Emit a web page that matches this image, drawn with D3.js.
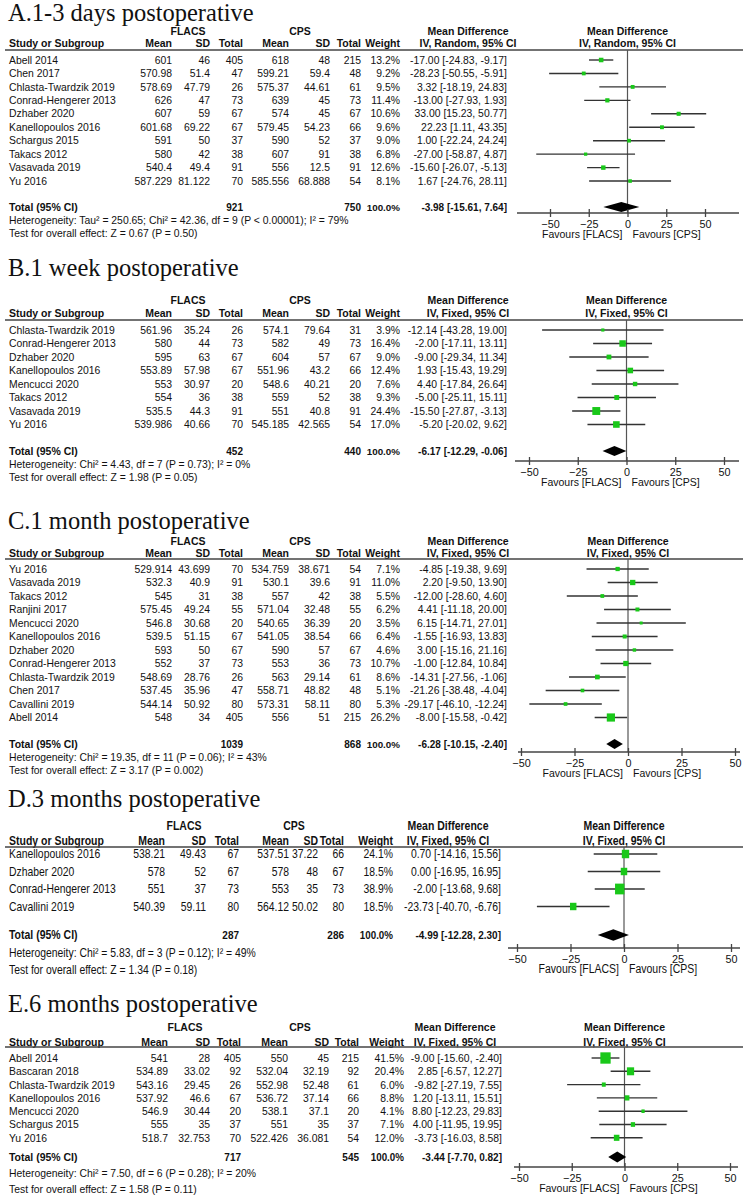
<!DOCTYPE html>
<html><head><meta charset="utf-8">
<script src="https://cdn.jsdelivr.net/npm/d3@7"></script>
<style>
body{margin:0;background:#fff}
svg{display:block}
text{font-family:"Liberation Sans",Arial,sans-serif;fill:#111}
</style>
</head><body>
<svg id="chart" width="750" height="1199"></svg>
<script>
// ---------------- DATA ----------------
const tickValues = [-50, -25, 0, 25, 50];
const groupLabels = ["FLACS", "CPS"];

// A. 1-3 days postoperative (Random)
const studiesA = ["Abell 2014","Chen 2017","Chlasta-Twardzik 2019","Conrad-Hengerer 2013","Dzhaber 2020","Kanellopoulos 2016","Schargus 2015","Takacs 2012","Vasavada 2019","Yu 2016"];
const flacsMeanA = [601,570.98,578.69,626,607,601.68,591,580,540.4,587.229];
const flacsSdA = [46,51.4,47.79,47,59,69.22,50,42,49.4,81.122];
const flacsNA = [405,47,26,73,67,67,37,38,91,70];
const cpsMeanA = [618,599.21,575.37,639,574,579.45,590,607,556,585.556];
const cpsSdA = [48,59.4,44.61,45,45,54.23,52,91,12.5,68.888];
const cpsNA = [215,48,61,73,67,66,37,38,91,54];
const weightA = [13.2,9.2,9.5,11.4,10.6,9.6,9.0,6.8,12.6,8.1];
const mdA = [-17.00,-28.23,3.32,-13.00,33.00,22.23,1.00,-27.00,-15.60,1.67];
const loA = [-24.83,-50.55,-18.19,-27.93,15.23,1.11,-22.24,-58.87,-26.07,-24.76];
const hiA = [-9.17,-5.91,24.83,1.93,50.77,43.35,24.24,4.87,-5.13,28.11];
const totalA = {fn:921, cn:750, md:-3.98, lo:-15.61, hi:7.64};
const hetA = "Heterogeneity: Tau² = 250.65; Chi² = 42.36, df = 9 (P < 0.00001); I² = 79%";
const testA = "Test for overall effect: Z = 0.67 (P = 0.50)";

// B. 1 week postoperative (Fixed)
const studiesB = ["Chlasta-Twardzik 2019","Conrad-Hengerer 2013","Dzhaber 2020","Kanellopoulos 2016","Mencucci 2020","Takacs 2012","Vasavada 2019","Yu 2016"];
const flacsMeanB = [561.96,580,595,553.89,553,554,535.5,539.986];
const flacsSdB = [35.24,44,63,57.98,30.97,36,44.3,40.66];
const flacsNB = [26,73,67,67,20,38,91,70];
const cpsMeanB = [574.1,582,604,551.96,548.6,559,551,545.185];
const cpsSdB = [79.64,49,57,43.2,40.21,52,40.8,42.565];
const cpsNB = [31,73,67,66,20,38,91,54];
const weightB = [3.9,16.4,9.0,12.4,7.6,9.3,24.4,17.0];
const mdB = [-12.14,-2.00,-9.00,1.93,4.40,-5.00,-15.50,-5.20];
const loB = [-43.28,-17.11,-29.34,-15.43,-17.84,-25.11,-27.87,-20.02];
const hiB = [19.00,13.11,11.34,19.29,26.64,15.11,-3.13,9.62];
const totalB = {fn:452, cn:440, md:-6.17, lo:-12.29, hi:-0.06};
const hetB = "Heterogeneity: Chi² = 4.43, df = 7 (P = 0.73); I² = 0%";
const testB = "Test for overall effect: Z = 1.98 (P = 0.05)";

// C. 1 month postoperative (Fixed)
const studiesC = ["Yu 2016","Vasavada 2019","Takacs 2012","Ranjini 2017","Mencucci 2020","Kanellopoulos 2016","Dzhaber 2020","Conrad-Hengerer 2013","Chlasta-Twardzik 2019","Chen 2017","Cavallini 2019","Abell 2014"];
const flacsMeanC = [529.914,532.3,545,575.45,546.8,539.5,593,552,548.69,537.45,544.14,548];
const flacsSdC = [43.699,40.9,31,49.24,30.68,51.15,50,37,28.76,35.96,50.92,34];
const flacsNC = [70,91,38,55,20,67,67,73,26,47,80,405];
const cpsMeanC = [534.759,530.1,557,571.04,540.65,541.05,590,553,563,558.71,573.31,556];
const cpsSdC = [38.671,39.6,42,32.48,36.39,38.54,57,36,29.14,48.82,58.11,51];
const cpsNC = [54,91,38,55,20,66,67,73,61,48,80,215];
const weightC = [7.1,11.0,5.5,6.2,3.5,6.4,4.6,10.7,8.6,5.1,5.3,26.2];
const mdC = [-4.85,2.20,-12.00,4.41,6.15,-1.55,3.00,-1.00,-14.31,-21.26,-29.17,-8.00];
const loC = [-19.38,-9.50,-28.60,-11.18,-14.71,-16.93,-15.16,-12.84,-27.56,-38.48,-46.10,-15.58];
const hiC = [9.69,13.90,4.60,20.00,27.01,13.83,21.16,10.84,-1.06,-4.04,-12.24,-0.42];
const totalC = {fn:1039, cn:868, md:-6.28, lo:-10.15, hi:-2.40};
const hetC = "Heterogeneity: Chi² = 19.35, df = 11 (P = 0.06); I² = 43%";
const testC = "Test for overall effect: Z = 3.17 (P = 0.002)";

// D. 3 months postoperative (Fixed)
const studiesD = ["Kanellopoulos 2016","Dzhaber 2020","Conrad-Hengerer 2013","Cavallini 2019"];
const flacsMeanD = [538.21,578,551,540.39];
const flacsSdD = [49.43,52,37,59.11];
const flacsND = [67,67,73,80];
const cpsMeanD = [537.51,578,553,564.12];
const cpsSdD = [37.22,48,35,50.02];
const cpsND = [66,67,73,80];
const weightD = [24.1,18.5,38.9,18.5];
const mdD = [0.70,0.00,-2.00,-23.73];
const loD = [-14.16,-16.95,-13.68,-40.70];
const hiD = [15.56,16.95,9.68,-6.76];
const totalD = {fn:287, cn:286, md:-4.99, lo:-12.28, hi:2.30};
const hetD = "Heterogeneity: Chi² = 5.83, df = 3 (P = 0.12); I² = 49%";
const testD = "Test for overall effect: Z = 1.34 (P = 0.18)";

// E. 6 months postoperative (Fixed)
const studiesE = ["Abell 2014","Bascaran 2018","Chlasta-Twardzik 2019","Kanellopoulos 2016","Mencucci 2020","Schargus 2015","Yu 2016"];
const flacsMeanE = [541,534.89,543.16,537.92,546.9,555,518.7];
const flacsSdE = [28,33.02,29.45,46.6,30.44,35,32.753];
const flacsNE = [405,92,26,67,20,37,70];
const cpsMeanE = [550,532.04,552.98,536.72,538.1,551,522.426];
const cpsSdE = [45,32.19,52.48,37.14,37.1,35,36.081];
const cpsNE = [215,92,61,66,20,37,54];
const weightE = [41.5,20.4,6.0,8.8,4.1,7.1,12.0];
const mdE = [-9.00,2.85,-9.82,1.20,8.80,4.00,-3.73];
const loE = [-15.60,-6.57,-27.19,-13.11,-12.23,-11.95,-16.03];
const hiE = [-2.40,12.27,7.55,15.51,29.83,19.95,8.58];
const totalE = {fn:717, cn:545, md:-3.44, lo:-7.70, hi:0.82};
const hetE = "Heterogeneity: Chi² = 7.50, df = 6 (P = 0.28); I² = 20%";
const testE = "Test for overall effect: Z = 1.58 (P = 0.11)";

// ---------------- PANELS ----------------
const panels = [
  {title:"A.1-3 days postoperative", model:"Random", studies:studiesA, fm:flacsMeanA, fsd:flacsSdA, fn:flacsNA, cm:cpsMeanA, csd:cpsSdA, cn:cpsNA, w:weightA, md:mdA, lo:loA, hi:hiA, total:totalA, het:hetA, test:testA},
  {title:"B.1 week postoperative", model:"Fixed", studies:studiesB, fm:flacsMeanB, fsd:flacsSdB, fn:flacsNB, cm:cpsMeanB, csd:cpsSdB, cn:cpsNB, w:weightB, md:mdB, lo:loB, hi:hiB, total:totalB, het:hetB, test:testB},
  {title:"C.1 month postoperative", model:"Fixed", studies:studiesC, fm:flacsMeanC, fsd:flacsSdC, fn:flacsNC, cm:cpsMeanC, csd:cpsSdC, cn:cpsNC, w:weightC, md:mdC, lo:loC, hi:hiC, total:totalC, het:hetC, test:testC},
  {title:"D.3 months postoperative", model:"Fixed", studies:studiesD, fm:flacsMeanD, fsd:flacsSdD, fn:flacsND, cm:cpsMeanD, csd:cpsSdD, cn:cpsND, w:weightD, md:mdD, lo:loD, hi:hiD, total:totalD, het:hetD, test:testD},
  {title:"E.6 months postoperative", model:"Fixed", studies:studiesE, fm:flacsMeanE, fsd:flacsSdE, fn:flacsNE, cm:cpsMeanE, csd:cpsSdE, cn:cpsNE, w:weightE, md:mdE, lo:loE, hi:hiE, total:totalE, het:hetE, test:testE}
];

// ---------------- LAYOUT ----------------
const colsABC = {fm:172, fsd:210, fn:243, cm:289, csd:330, cn:361, w:400, ci:507, flacsC:188, cpsC:300, mdC:468};
const colsD = {fm:165, fsd:206, fn:239, cm:289, csd:318, cn:344, w:393, ci:501, flacsC:184, cpsC:294, mdC:448};
const colsE = {fm:168, fsd:210, fn:241, cm:288, csd:329, cn:359, w:404, ci:502, flacsC:185, cpsC:300, mdC:455};
const layouts = [
  {title:13, grp:31, hdr:43, line:50, row0:60, dy:13.45, total:207, het:220, test:233, axisY:213, xm:550, xp:705, ax0:517, ax1:739, cols:colsABC, sq:1.25, sy:1},
  {title:268, grp:300, hdr:313, line:320, row0:330, dy:13.5, total:451, het:464, test:477, axisY:461, xm:529, xp:724, ax0:515, ax1:739, cols:colsABC, sq:1.6, sy:1},
  {title:521, grp:541, hdr:553, line:559, row0:569, dy:13.5, total:744, het:757, test:770, axisY:752, xm:521, xp:735, ax0:518, ax1:740, cols:colsABC, sq:1.6, sy:1},
  {title:799, grp:826, hdr:841, line:847, row0:854, dy:17.5, total:935, het:953, test:970, axisY:948, xm:517, xp:731, ax0:508, ax1:740, cols:colsD, sq:1.5, sy:1.15},
  {title:1004, grp:1027, hdr:1042, line:1047, row0:1058, dy:13.3, total:1157, het:1173, test:1189, axisY:1167, xm:519, xp:730, ax0:514, ax1:738, cols:colsE, sq:1.6, sy:1.1}
];

const svg = d3.select("#chart");
const FS = 10.4, FSB = 10.5, FST = 10, BASE = 3.6;
const green = "#19c819", lineCol = "#333";

function makeTxt(g, sy){
  return function(x, y, s, anchor, bold, size){
    return g.append("text")
      .attr("transform", `translate(${x},${y + BASE * sy}) scale(1,${sy})`)
      .attr("text-anchor", anchor || "start")
      .attr("font-size", size || (bold ? FSB : FS))
      .attr("font-weight", bold ? "bold" : "normal")
      .text(s);
  };
}
const f2 = v => v.toFixed(2);
const ciText = (m, l, h) => `${f2(m)} [${f2(l)}, ${f2(h)}]`;

panels.forEach((p, pi) => {
  const L = layouts[pi], c = L.cols;
  const g = svg.append("g");
  const txt = makeTxt(g, L.sy);
  const x = d3.scaleLinear().domain([-50, 50]).range([L.xm, L.xp]);
  const yRow = i => L.row0 + i * L.dy;

  // title
  g.append("text").attr("x", 8).attr("y", L.title + 8)
    .attr("font-size", 24.5).style("font-family", "'Liberation Serif','Times New Roman',serif")
    .text(p.title);

  // group headers
  txt(c.flacsC, L.grp, groupLabels[0], "middle", true);
  txt(c.cpsC, L.grp, groupLabels[1], "middle", true);
  txt(c.mdC, L.grp, "Mean Difference", "middle", true);
  txt(x(0), L.grp, "Mean Difference", "middle", true);
  // column headers
  txt(9, L.hdr, "Study or Subgroup", "start", true);
  txt(c.fm, L.hdr, "Mean", "end", true);
  txt(c.fsd, L.hdr, "SD", "end", true);
  txt(c.fn, L.hdr, "Total", "end", true);
  txt(c.cm, L.hdr, "Mean", "end", true);
  txt(c.csd, L.hdr, "SD", "end", true);
  txt(c.cn, L.hdr, "Total", "end", true);
  txt(c.w, L.hdr, "Weight", "end", true);
  const ivLab = `IV, ${p.model}, 95% CI`;
  txt(c.mdC, L.hdr, ivLab, "middle", true);
  txt(x(0), L.hdr, ivLab, "middle", true);
  g.append("line").attr("x1", 5).attr("x2", 743).attr("y1", L.line).attr("y2", L.line)
    .attr("stroke", "#444").attr("stroke-width", 1.4);

  // zero line
  g.append("line").attr("x1", x(0)).attr("x2", x(0)).attr("y1", L.line).attr("y2", L.axisY)
    .attr("stroke", "#555").attr("stroke-width", 1.2);

  // rows
  p.studies.forEach((s, i) => {
    const y = yRow(i);
    txt(9, y, s, "start");
    txt(c.fm, y, String(p.fm[i]), "end");
    txt(c.fsd, y, String(p.fsd[i]), "end");
    txt(c.fn, y, String(p.fn[i]), "end");
    txt(c.cm, y, String(p.cm[i]), "end");
    txt(c.csd, y, String(p.csd[i]), "end");
    txt(c.cn, y, String(p.cn[i]), "end");
    txt(c.w, y, p.w[i].toFixed(1) + "%", "end");
    txt(c.ci, y, ciText(p.md[i], p.lo[i], p.hi[i]), "end");
    g.append("line").attr("x1", x(p.lo[i])).attr("x2", x(p.hi[i])).attr("y1", y).attr("y2", y)
      .attr("stroke", lineCol).attr("stroke-width", 1.4);
    const side = L.sq * Math.sqrt(p.w[i]);
    g.append("rect").attr("x", x(p.md[i]) - side / 2).attr("y", y - side * L.sy / 2)
      .attr("width", side).attr("height", side * L.sy).attr("fill", green);
  });

  // total row
  const T = p.total;
  txt(9, L.total, "Total (95% CI)", "start", true, FSB);
  txt(c.fn, L.total, String(T.fn), "end", true, FST);
  txt(c.cn, L.total, String(T.cn), "end", true, FST);
  txt(c.w, L.total, "100.0%", "end", true, 9.8);
  txt(c.ci, L.total, ciText(T.md, T.lo, T.hi), "end", true, FST);
  const dh = 5 * L.sy;
  g.append("path").attr("d",
      `M${x(T.lo)},${L.total}L${x(T.md)},${L.total - dh}L${x(T.hi)},${L.total}L${x(T.md)},${L.total + dh}Z`)
    .attr("fill", "#000");

  txt(9, L.het, p.het, "start");
  txt(9, L.test, p.test, "start");

  // axis
  g.append("line").attr("x1", L.ax0).attr("x2", L.ax1).attr("y1", L.axisY).attr("y2", L.axisY)
    .attr("stroke", "#444").attr("stroke-width", 1.3);
  const ax = g.append("g").attr("transform", `translate(0,${L.axisY})`)
    .call(d3.axisBottom(x).tickValues(tickValues).tickSizeOuter(0).tickSize(4).tickPadding(3));
  ax.select(".domain").remove();
  ax.selectAll(".tick line").attr("y1", -4).attr("y2", 4).attr("stroke", "#444").attr("stroke-width", 1.3);
  ax.selectAll(".tick text").attr("font-size", 10.8).attr("fill", "#222")
    .style("font-family", "'Liberation Sans',Arial,sans-serif");
  txt(x(0) - 5, L.axisY + 21, "Favours [FLACS]", "end", false, 10.5).attr("fill", "#444");
  txt(x(0) + 5, L.axisY + 21, "Favours [CPS]", "start", false, 10.5).attr("fill", "#444");
});
</script>
</body></html>
